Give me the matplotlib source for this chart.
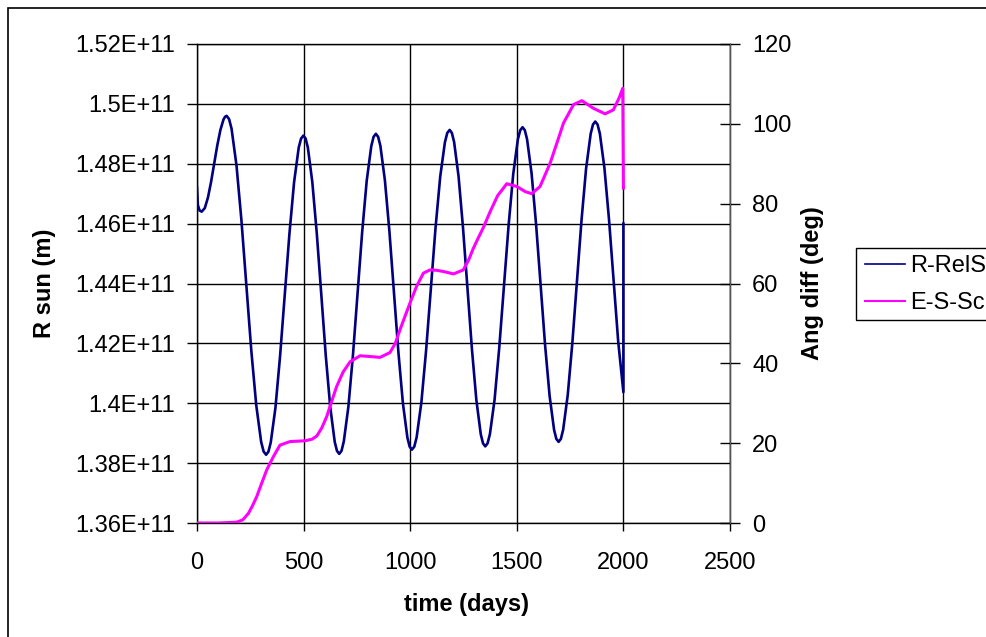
import matplotlib.pyplot as plt
import numpy as np
from matplotlib.ticker import MultipleLocator, FuncFormatter
from matplotlib.patches import Rectangle
from matplotlib.lines import Line2D

plt.rcParams['font.family'] = ['Liberation Sans', 'DejaVu Sans']

# R-RelSun: distance to the sun (in units of 1e11 m) vs time (days)
r_days = [0, 4, 12,
          22, 36.6, 51.3, 65.9, 80.5, 95.1, 109.8, 124.4, 131.7, 139,
          150.6, 162.1, 185.3, 208.4, 231.5, 254.6, 277.8, 300.9, 312.4, 324,
          334.9, 345.9, 367.8, 389.6, 411.5, 433.4, 455.3, 477.1, 488.1, 499,
          509.5, 520, 541, 562, 583, 604, 625, 646, 656.5, 667,
          677.8, 688.5, 710, 731.5, 753, 774.5, 796, 817.5, 828.3, 839,
          849.6, 860.1, 881.3, 902.4, 923.5, 944.6, 965.8, 986.9, 997.4, 1008,
          1019.1, 1030.1, 1052.3, 1074.4, 1096.5, 1118.6, 1140.8, 1162.9, 1173.9, 1185,
          1195.4, 1205.9, 1226.8, 1247.6, 1268.5, 1289.4, 1310.3, 1331.1, 1341.6, 1352,
          1362.9, 1373.9, 1395.8, 1417.6, 1439.5, 1461.4, 1483.3, 1505.1, 1516.1, 1527,
          1537.6, 1548.1, 1569.3, 1590.4, 1611.5, 1632.6, 1653.8, 1674.9, 1685.4, 1696,
          1706.8, 1717.5, 1739, 1760.5, 1782, 1803.5, 1825, 1846.5, 1857.3, 1868,
          1878.8, 1889.5, 1911, 1932.5, 1954, 1975.5, 2000, 2000]
r_vals = [1.4720, 1.4662, 1.4644,
          1.4640, 1.4652, 1.4687, 1.4739, 1.4800, 1.4861, 1.4913, 1.4948, 1.4957, 1.4960,
          1.4949, 1.4917, 1.4794, 1.4611, 1.4394, 1.4177, 1.3994, 1.3871, 1.3839, 1.3828,
          1.3838, 1.3869, 1.3984, 1.4157, 1.4361, 1.4565, 1.4738, 1.4854, 1.4884, 1.4894,
          1.4884, 1.4854, 1.4738, 1.4566, 1.4363, 1.4159, 1.3987, 1.3871, 1.3841, 1.3831,
          1.3841, 1.3872, 1.3988, 1.4161, 1.4366, 1.4570, 1.4743, 1.4859, 1.4890, 1.4900,
          1.4890, 1.4860, 1.4745, 1.4575, 1.4373, 1.4171, 1.4000, 1.3885, 1.3855, 1.3845,
          1.3855, 1.3886, 1.4002, 1.4175, 1.4379, 1.4584, 1.4757, 1.4872, 1.4903, 1.4913,
          1.4903, 1.4873, 1.4758, 1.4587, 1.4385, 1.4182, 1.4011, 1.3896, 1.3866, 1.3856,
          1.3866, 1.3897, 1.4012, 1.4185, 1.4389, 1.4593, 1.4766, 1.4882, 1.4912, 1.4922,
          1.4912, 1.4882, 1.4768, 1.4598, 1.4397, 1.4195, 1.4025, 1.3911, 1.3881, 1.3871,
          1.3881, 1.3912, 1.4028, 1.4201, 1.4406, 1.4611, 1.4784, 1.4900, 1.4931, 1.4941,
          1.4931, 1.4901, 1.4786, 1.4614, 1.4411, 1.4207, 1.4037, 1.4600]

# E-S-Sc angle difference (deg) vs time (days)
ang_days = [0, 100, 186, 215, 241, 260, 280, 305, 327, 358,
            389, 436, 507, 540, 562, 585, 608, 630, 655, 685,
            718, 765, 812, 859, 905, 930, 952, 975, 999, 1030,
            1062, 1093, 1125, 1156, 1203, 1249, 1275, 1296, 1320, 1343,
            1375, 1410, 1453, 1500, 1540, 1570, 1609, 1656, 1690, 1719,
            1766, 1805, 1859, 1914, 1953, 1980, 1997, 2000]
ang_vals = [0, 0, 0.2, 0.8, 2.4, 4.3, 6.6, 10.2, 13.3, 16.6,
            19.5, 20.4, 20.6, 21.0, 21.8, 23.8, 26.6, 30.2, 34.2, 37.8,
            40.4, 41.9, 41.7, 41.5, 42.7, 45.0, 48.4, 51.7, 55.1, 59.3,
            62.6, 63.4, 63.3, 63.0, 62.4, 63.4, 66.0, 68.8, 71.5, 74.0,
            78.0, 82.0, 85.0, 84.3, 83.0, 82.5, 84.3, 90.1, 95.5, 100.2,
            104.8, 105.8, 103.9, 102.5, 103.5, 106.5, 108.9, 83.9]

labels = ['R-RelS', 'E-S-Sc']
navy = '#000080'
magenta = '#FF00FF'
fs = 17

W, H = 987, 637
fig = plt.figure(figsize=(W / 100, H / 100), dpi=100)
ax = fig.add_axes([197 / W, 1 - 523 / H, 533 / W, 479 / H])
ax2 = ax.twinx()

ax.plot(r_days, np.array(r_vals) * 1e11, color=navy, lw=1.9, label=labels[0], zorder=3)
ax2.plot(ang_days, ang_vals, color=magenta, lw=2.2, label=labels[1], zorder=3)

ax.set_xlim(0, 2500)
ax.set_ylim(1.36e11, 1.52e11)
ax2.set_ylim(0, 120)
ax.xaxis.set_major_locator(MultipleLocator(500))
ax.yaxis.set_major_locator(MultipleLocator(2e9))
ax2.yaxis.set_major_locator(MultipleLocator(20))
ax.yaxis.set_major_formatter(FuncFormatter(lambda v, p: f"{round(v / 1e11, 4):g}E+11"))

ax.grid(True, color='black', lw=1.0)
for s in ax.spines.values():
    s.set_color('black')
    s.set_linewidth(1.0)
for s in ax2.spines.values():
    s.set_visible(False)
ax2.spines['right'].set_visible(True)
ax2.spines['right'].set_color('#555555')

ax.tick_params(axis='x', direction='out', length=6, width=1, pad=15, labelsize=fs)
ax.tick_params(axis='y', direction='out', length=7, width=1, pad=8.5, labelsize=fs)
ax2.tick_params(axis='y', direction='inout', length=14, width=1, pad=9, labelsize=fs)

ax.set_xlabel('time (days)', fontsize=fs, fontweight='bold', va='center')
ax.xaxis.set_label_coords((467 - 197) / 533, (523 - 604) / 479)
ax.set_ylabel('R sun (m)', fontsize=fs, fontweight='bold', va='center')
ax.yaxis.set_label_coords((45 - 197) / 533, 0.5)
ax2.set_ylabel('Ang diff (deg)', fontsize=fs, fontweight='bold', va='center', rotation=90)
ax2.yaxis.set_label_coords((813 - 197) / 533, 0.5)

# outer chart border (clipped at right and bottom)
fig.add_artist(Rectangle((8 / W, -0.1), 1.2, 1.1 - 8 / H, transform=fig.transFigure,
                         fill=False, ec='black', lw=1.2))

# legend, its right part cut off by the image edge
fig.add_artist(Rectangle((856 / W, 1 - 320 / H), 0.2, 72 / H, transform=fig.transFigure,
                         fill=False, ec='black', lw=1.0))
handles = [Line2D([], [], color=navy, lw=1.2), Line2D([], [], color=magenta, lw=1.5)]
fig.legend(handles, labels, loc='upper left', bbox_to_anchor=(858 / W, 1 - 248 / H),
           frameon=False, fontsize=fs, handlelength=1.7, handletextpad=0.2,
           labelspacing=0.65, borderpad=0.3, borderaxespad=0)

fig.savefig('out.png', dpi=100)
